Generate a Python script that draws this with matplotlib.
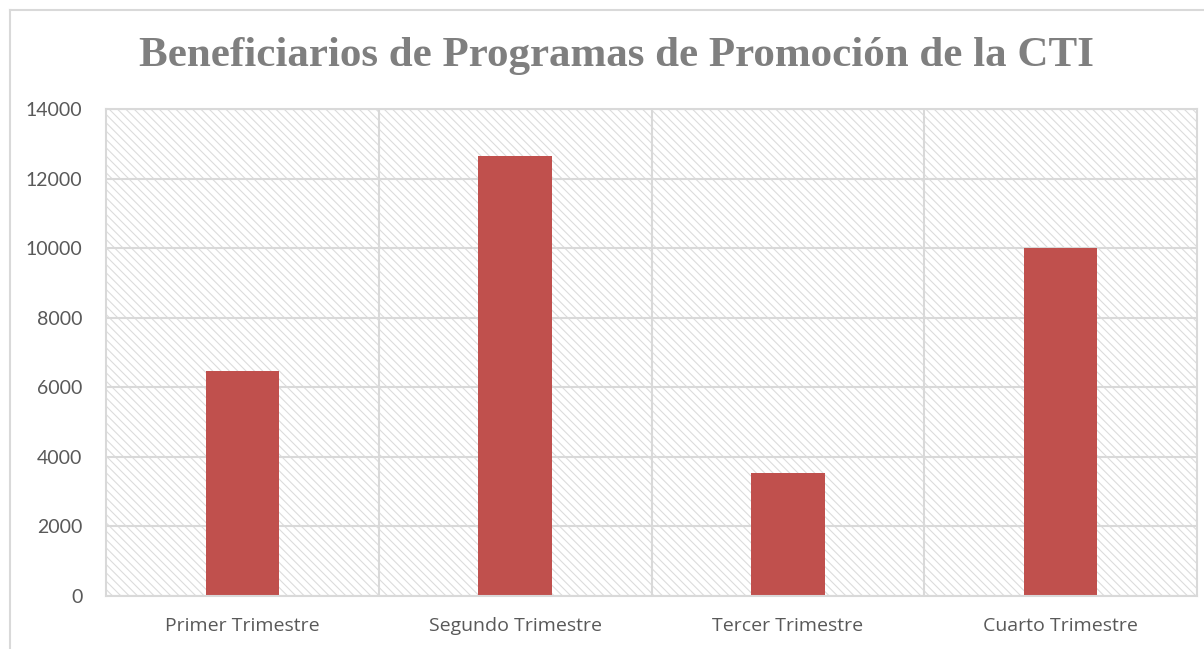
import matplotlib.pyplot as plt
from matplotlib.patches import Rectangle
from matplotlib.lines import Line2D

categories = ['Primer Trimestre', 'Segundo Trimestre', 'Tercer Trimestre', 'Cuarto Trimestre']
values = [6470, 12650, 3535, 10000]
y_ticks = [0, 2000, 4000, 6000, 8000, 10000, 12000, 14000]

grid_color = '#d9d9d9'
text_color = '#595959'

fig = plt.figure(figsize=(12.04, 6.49), dpi=100)
fig.patch.set_facecolor('white')

# outer chart frame (top and left edges visible)
fig.add_artist(Line2D([10 / 1204, 10 / 1204], [0, 1 - 10 / 649], color=grid_color, lw=1.5))
fig.add_artist(Line2D([10 / 1204, 1], [1 - 10 / 649, 1 - 10 / 649], color=grid_color, lw=1.5))

ax = fig.add_axes([106 / 1204, 1 - 596 / 649, (1197 - 106) / 1204, (596 - 109) / 649])

plt.rcParams['hatch.color'] = '#dcdcdc'
plt.rcParams['hatch.linewidth'] = 0.8

x = list(range(len(categories)))
ax.set_xlim(-0.5, len(categories) - 0.5)
ax.set_ylim(0, 14000)

# hatched plot area background
bg = Rectangle((0, 0), 1, 1, transform=ax.transAxes, facecolor='white',
               edgecolor='#dcdcdc', hatch='\\\\\\\\', lw=0, zorder=0)
ax.add_patch(bg)

for t in y_ticks:
    ax.axhline(t, color=grid_color, lw=1.5, zorder=1)
for b in [0.5, 1.5, 2.5]:
    ax.axvline(b, color=grid_color, lw=1.5, zorder=1)

ax.bar(x, values, width=0.27, color='#c0504d', zorder=2)

for s in ax.spines.values():
    s.set_color(grid_color)
    s.set_linewidth(1.5)

ax.set_xticks(x)
ax.set_xticklabels(categories, fontfamily='Open Sans', fontsize=14, color=text_color)
ax.set_yticks(y_ticks)
ax.set_yticklabels([str(t) for t in y_ticks], fontfamily='Lato', fontsize=14, color=text_color)
ax.tick_params(axis='x', length=0, pad=15)
ax.tick_params(axis='y', length=0, pad=17)

fig.text(0.512, 1 - 56 / 649, 'Beneficiarios de Programas de Promoción de la CTI',
         ha='center', va='center', fontfamily='Liberation Serif', fontweight='bold',
         fontsize=31, color='#7f7f7f')

fig.savefig('out.png', dpi=100)
